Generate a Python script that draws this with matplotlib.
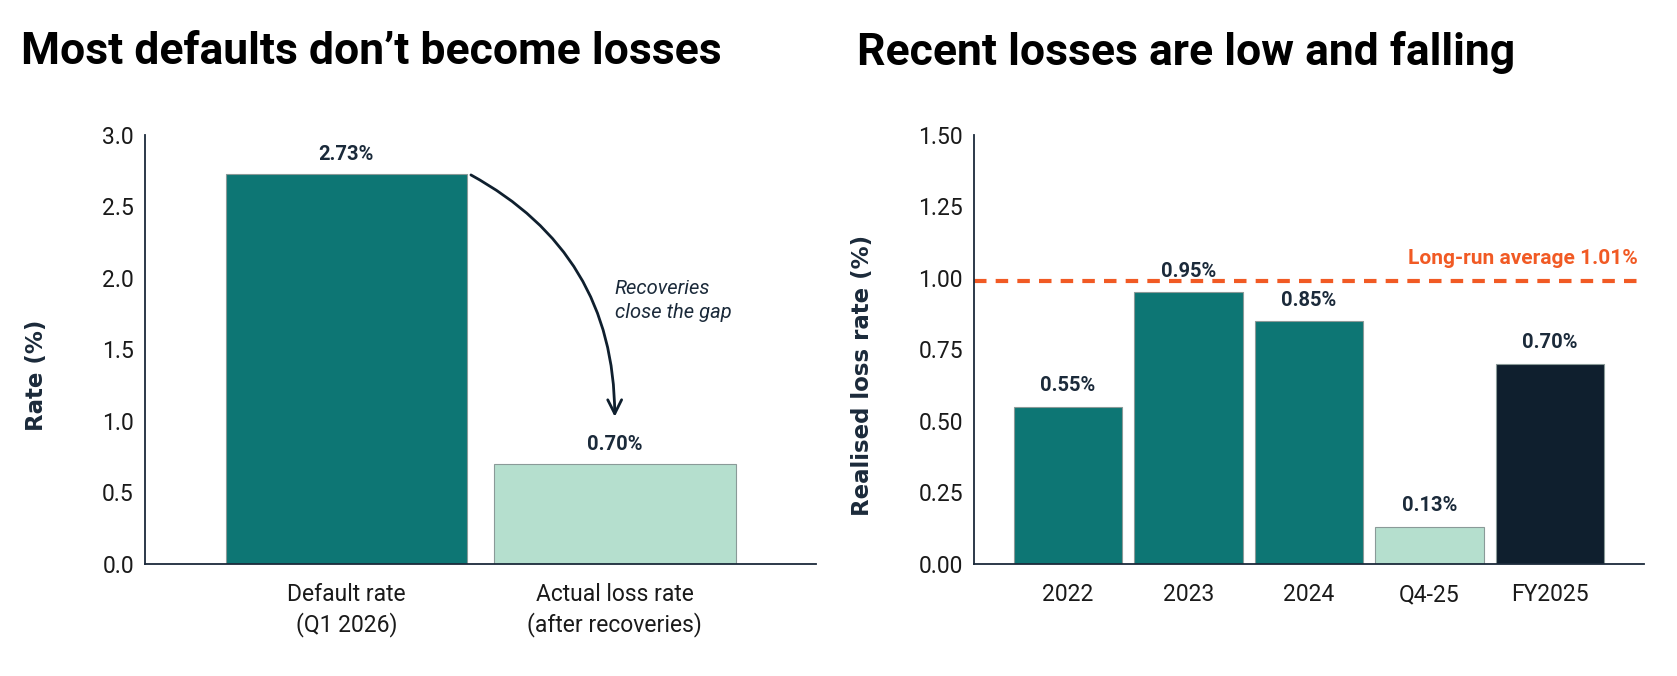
import matplotlib
matplotlib.use('Agg')
from matplotlib import pyplot as plt
from matplotlib.patches import FancyArrowPatch

# left panel data
left_cats = ['Default rate\n(Q1 2026)', 'Actual loss rate\n(after recoveries)']
left_vals = [2.73, 0.70]
left_labels = ['2.73%', '0.70%']

# right panel data
right_cats = ['2022', '2023', '2024', 'Q4-25', 'FY2025']
right_vals = [0.55, 0.95, 0.85, 0.13, 0.70]
right_labels = ['0.55%', '0.95%', '0.85%', '0.13%', '0.70%']
long_run_line = 0.99   # where the dashed line sits in the picture
long_run_text = 'Long-run average 1.01%'

TEAL = '#0d7674'
MINT = '#b5dfce'
NAVY = '#0f1f2e'
ORANGE = '#f15a24'
TEXT = '#1b2a3a'

plt.rcParams['font.family'] = ['Roboto', 'DejaVu Sans']

fig = plt.figure(figsize=(16.77, 6.76), dpi=100)
ax1 = fig.add_axes([0.0865, 0.1657, 0.4001, 0.6346])
ax2 = fig.add_axes([0.5808, 0.1657, 0.3995, 0.6346])


def style_axes(ax):
    for side in ['top', 'right']:
        ax.spines[side].set_visible(False)
    for side in ['left', 'bottom']:
        ax.spines[side].set_color(TEXT)
        ax.spines[side].set_linewidth(1.3)
    ax.tick_params(length=0, pad=8, labelsize=16.5, colors='#1a1a1a')


# ---- left chart ----
left_colors = [TEAL, MINT]
ax1.bar(range(len(left_vals)), left_vals, width=0.9, color=left_colors,
        edgecolor='#8a9a98', linewidth=0.8)
for i, (v, lab) in enumerate(zip(left_vals, left_labels)):
    ax1.annotate(lab, (i, v), xytext=(0, 14), textcoords='offset points',
                 ha='center', va='center', fontsize=14.5, fontweight='bold', color=TEXT)
ax1.set_xlim(-0.75, 1.75)
ax1.set_ylim(0, 3.0)
ax1.set_yticks([0, 0.5, 1.0, 1.5, 2.0, 2.5, 3.0])
ax1.set_yticklabels(['0.0', '0.5', '1.0', '1.5', '2.0', '2.5', '3.0'])
ax1.set_xticks(range(len(left_cats)))
ax1.set_xticklabels(left_cats, linespacing=1.3)
style_axes(ax1)
ax1.tick_params(axis='x', pad=14)
ax1.set_ylabel('Rate (%)', fontsize=16.5, fontweight='bold', color=TEXT,
               family='DejaVu Sans')
ax1.yaxis.set_label_coords(-0.145, 0.44)

arrow = FancyArrowPatch((0.455, left_vals[0]), (1.0, 1.01),
                        connectionstyle='arc3,rad=-0.3',
                        arrowstyle='->,head_length=10,head_width=5',
                        color=NAVY, linewidth=2, mutation_scale=1)
ax1.add_patch(arrow)
ax1.text(1.0, 1.99, 'Recoveries\nclose the gap', fontsize=14.5, style='italic',
         color=TEXT, ha='left', va='top', linespacing=1.3)

# ---- right chart ----
right_colors = [TEAL, TEAL, TEAL, MINT, NAVY]
ax2.bar(range(len(right_vals)), right_vals, width=0.9, color=right_colors,
        edgecolor='#8a9a98', linewidth=0.8)
for i, (v, lab) in enumerate(zip(right_vals, right_labels)):
    ax2.annotate(lab, (i, v), xytext=(0, 15), textcoords='offset points',
                 ha='center', va='center', fontsize=14.5, fontweight='bold', color=TEXT)
ax2.axhline(long_run_line, color=ORANGE, linestyle=(0, (3, 2.2)), linewidth=3)
ax2.annotate(long_run_text, (0.99, long_run_line),
             xycoords=ax2.get_yaxis_transform(), xytext=(0, 16),
             textcoords='offset points', ha='right', va='center',
             fontsize=15, fontweight='bold', color=ORANGE)
ax2.set_xlim(-0.78, 4.78)
ax2.set_ylim(0, 1.5)
ax2.set_yticks([0, 0.25, 0.5, 0.75, 1.0, 1.25, 1.5])
ax2.set_yticklabels(['0.00', '0.25', '0.50', '0.75', '1.00', '1.25', '1.50'])
ax2.set_xticks(range(len(right_cats)))
ax2.set_xticklabels(right_cats)
style_axes(ax2)
ax2.tick_params(axis='x', pad=14)
ax2.set_ylabel('Realised loss rate (%)', fontsize=16.5, fontweight='bold', color=TEXT,
               family='DejaVu Sans')
ax2.yaxis.set_label_coords(-0.15, 0.44)

fig.text(0.0125, 0.923, 'Most defaults don\u2019t become losses', fontsize=32,
         fontweight='bold', color='black', ha='left', va='center')
fig.text(0.511, 0.923, 'Recent losses are low and falling', fontsize=32,
         fontweight='bold', color='black', ha='left', va='center')

fig.savefig('out.png', dpi=100)
